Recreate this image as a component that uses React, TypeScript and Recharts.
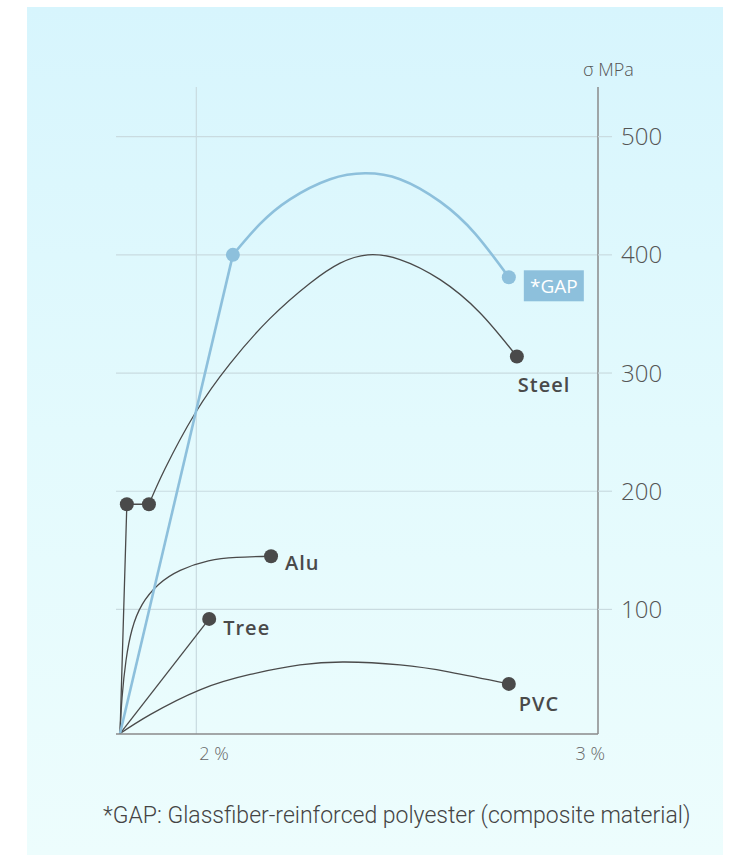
import { ComposedChart, Line, Scatter, XAxis, YAxis, CartesianGrid } from 'recharts';

// strain in %, stress in MPa
const xTicks = [2, 3];
const yTicks = [100, 200, 300, 400, 500];

const steelElastic = [
  { x: 1.81, y: -5 },
  { x: 1.827, y: 189 },
  { x: 1.882, y: 189 },
];
const steelCurve = [
  { x: 1.882, y: 189 },
  { x: 1.922, y: 219 },
  { x: 1.997, y: 266 },
  { x: 2.084, y: 308 },
  { x: 2.183, y: 346 },
  { x: 2.283, y: 376 },
  { x: 2.358, y: 393 },
  { x: 2.427, y: 400 },
  { x: 2.507, y: 396 },
  { x: 2.607, y: 379 },
  { x: 2.706, y: 351 },
  { x: 2.798, y: 314 },
];
const gapElastic = [
  { x: 1.81, y: -5 },
  { x: 2.091, y: 400 },
];
const gapCurve = [
  { x: 2.091, y: 400 },
  { x: 2.158, y: 426 },
  { x: 2.233, y: 447 },
  { x: 2.333, y: 464 },
  { x: 2.42, y: 469 },
  { x: 2.507, y: 464 },
  { x: 2.607, y: 445 },
  { x: 2.694, y: 418 },
  { x: 2.778, y: 381 },
];
const aluCurve = [
  { x: 1.81, y: -5 },
  { x: 1.815, y: 25 },
  { x: 1.825, y: 57 },
  { x: 1.84, y: 83 },
  { x: 1.865, y: 104 },
  { x: 1.906, y: 121 },
  { x: 1.96, y: 133 },
  { x: 2.03, y: 141 },
  { x: 2.1, y: 144 },
  { x: 2.186, y: 145 },
];
const treeLine = [
  { x: 1.81, y: -5 },
  { x: 2.032, y: 92 },
];
const pvcCurve = [
  { x: 1.81, y: -5 },
  { x: 1.885, y: 11 },
  { x: 2.009, y: 32 },
  { x: 2.134, y: 45 },
  { x: 2.258, y: 53 },
  { x: 2.37, y: 55.5 },
  { x: 2.507, y: 53 },
  { x: 2.631, y: 47 },
  { x: 2.778, y: 37 },
];

const darkDots = [
  { x: 1.827, y: 189, name: '' },
  { x: 1.882, y: 189, name: '' },
  { x: 2.798, y: 314, name: 'Steel' },
  { x: 2.186, y: 145, name: 'Alu' },
  { x: 2.032, y: 92, name: 'Tree' },
  { x: 2.778, y: 37, name: 'PVC' },
];
const gapDots = [
  { x: 2.091, y: 400, name: '' },
  { x: 2.778, y: 381, name: '*GAP' },
];

const DARK = '#4a4a4a';
const BLUE = '#8dc0dc';
const GRID = '#c9dbe0';
const FONT = '"Open Sans", sans-serif';

// where each material name sits relative to its end dot
const labelOffset: Record<string, [number, number]> = {
  Steel: [1, 29],
  Alu: [14, 7],
  Tree: [14, 9],
  PVC: [10, 20],
};

const DarkDot = (props: any) => {
  const { cx, cy, payload } = props;
  const off = labelOffset[payload.name];
  return (
    <g>
      <circle cx={cx} cy={cy} r={7} fill={DARK} />
      {off && (
        <text
          x={cx + off[0]}
          y={cy + off[1]}
          dy={7}
          fill={DARK}
          fontSize={20}
          fontWeight={600}
          letterSpacing={1}
          fontFamily={FONT}
        >
          {payload.name}
        </text>
      )}
    </g>
  );
};

const BlueDot = (props: any) => {
  const { cx, cy, payload } = props;
  return (
    <g>
      <circle cx={cx} cy={cy} r={7} fill={BLUE} />
      {payload.name && (
        <g>
          <rect x={cx + 15} y={cy - 7} width={60} height={31} fill={BLUE} />
          <text
            x={cx + 45}
            y={cy + 9}
            dy={6.5}
            textAnchor="middle"
            fill="#fff"
            fontSize={19}
            fontFamily={FONT}
          >
            {payload.name}
          </text>
        </g>
      )}
    </g>
  );
};

const XTick = (props: any) => {
  const { x, y, payload } = props;
  const first = payload.value === xTicks[0];
  return (
    <text
      x={first ? x + 3 : x + 7}
      y={y}
      dy={18}
      textAnchor={first ? 'start' : 'end'}
      fill="#666"
      fontSize={18}
      fontWeight={300}
      fontFamily={FONT}
    >
      {payload.value} %
    </text>
  );
};

export default function App() {
  return (
    <div style={{ position: 'absolute', left: 0, top: 0, width: 737, height: 855, background: '#fff' }}>
      <div
        style={{
          position: 'absolute',
          left: 27,
          top: 7,
          width: 696,
          height: 848,
          background: 'linear-gradient(180deg, #d7f5fd 0%, #e3fafd 50%, #edfdfd 100%)',
        }}
      />
      <div style={{ position: 'absolute', left: 0, top: 0 }}>
        <ComposedChart width={737} height={855} margin={{ top: 87, right: 79, bottom: 91, left: 116 }}>
          <CartesianGrid stroke={GRID} strokeWidth={1.2} horizontalValues={yTicks} verticalValues={[2]} />
          <XAxis
            type="number"
            dataKey="x"
            domain={[1.8, 3]}
            ticks={xTicks}
            allowDataOverflow
            height={30}
            tickLine={false}
            axisLine={{ stroke: '#8a8a8a', strokeWidth: 1.5 }}
            tick={<XTick />}
          />
          <YAxis
            type="number"
            dataKey="y"
            orientation="right"
            domain={[-5.4, 542]}
            ticks={yTicks}
            allowDataOverflow
            width={60}
            tickSize={14}
            tickMargin={9}
            tickLine={{ stroke: GRID, strokeWidth: 1.2 }}
            axisLine={{ stroke: '#8a8a8a', strokeWidth: 1.5 }}
            tick={{ fill: '#555', fontSize: 24, fontWeight: 300, fontFamily: FONT }}
          />
          <Line data={pvcCurve} dataKey="y" type="natural" stroke={DARK} strokeWidth={1.3} dot={false} isAnimationActive={false} />
          <Line data={treeLine} dataKey="y" type="linear" stroke={DARK} strokeWidth={1.3} dot={false} isAnimationActive={false} />
          <Line data={aluCurve} dataKey="y" type="natural" stroke={DARK} strokeWidth={1.3} dot={false} isAnimationActive={false} />
          <Line data={steelElastic} dataKey="y" type="linear" stroke={DARK} strokeWidth={1.3} dot={false} isAnimationActive={false} />
          <Line data={steelCurve} dataKey="y" type="natural" stroke={DARK} strokeWidth={1.3} dot={false} isAnimationActive={false} />
          <Line data={gapElastic} dataKey="y" type="linear" stroke={BLUE} strokeWidth={2.6} dot={false} isAnimationActive={false} />
          <Line data={gapCurve} dataKey="y" type="natural" stroke={BLUE} strokeWidth={2.6} dot={false} isAnimationActive={false} />
          <Scatter data={darkDots} dataKey="y" shape={<DarkDot />} isAnimationActive={false} />
          <Scatter data={gapDots} dataKey="y" shape={<BlueDot />} isAnimationActive={false} />
        </ComposedChart>
      </div>
      <div
        style={{
          position: 'absolute',
          left: 583,
          top: 57,
          fontFamily: FONT,
          fontSize: 18,
          fontWeight: 300,
          color: '#555',
        }}
      >
        σ MPa
      </div>
      <div
        style={{
          position: 'absolute',
          left: 103,
          top: 802,
          fontFamily: 'Roboto, sans-serif',
          fontSize: 23,
          fontWeight: 300,
          color: '#444',
          whiteSpace: 'nowrap',
        }}
      >
        *GAP: Glassfiber-reinforced polyester (composite material)
      </div>
    </div>
  );
}
